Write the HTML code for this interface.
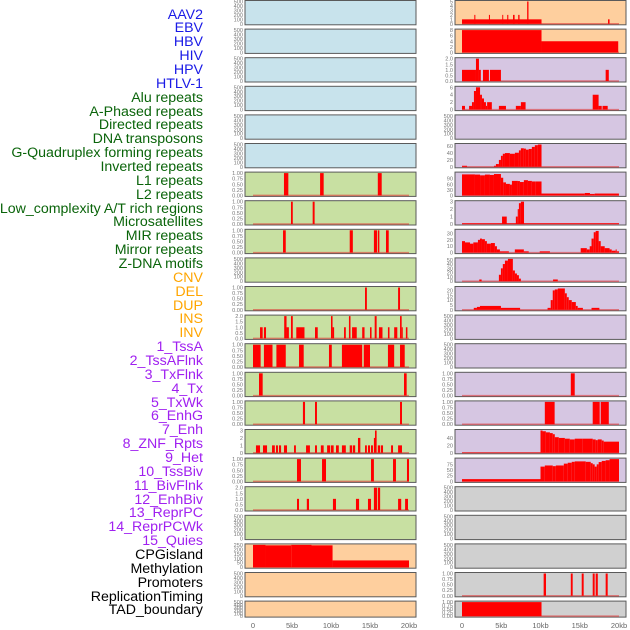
<!DOCTYPE html>
<html><head><meta charset="utf-8">
<style>
html,body{margin:0;padding:0;background:#fff;}
#wrap{position:relative;width:630px;height:630px;overflow:hidden;font-family:"Liberation Sans",sans-serif;}
.lab{position:absolute;right:427px;font-size:14.2px;line-height:14px;white-space:nowrap;}
svg{position:absolute;left:0;top:0;}
</style></head>
<body>
<div id="wrap">
<svg id="chart" width="630" height="630"></svg>
</div>
<script>
// ---- labels ----
const labels = ["AAV2","EBV","HBV","HIV","HPV","HTLV-1","Alu repeats","A-Phased repeats","Directed repeats","DNA transposons","G-Quadruplex forming repeats","Inverted repeats","L1 repeats","L2 repeats","Low_complexity A/T rich regions","Microsatellites","MIR repeats","Mirror repeats","Z-DNA motifs","CNV","DEL","DUP","INS","INV","1_TssA","2_TssAFlnk","3_TxFlnk","4_Tx","5_TxWk","6_EnhG","7_Enh","8_ZNF_Rpts","9_Het","10_TssBiv","11_BivFlnk","12_EnhBiv","13_ReprPC","14_ReprPCWk","15_Quies","CPGisland","Methylation","Promoters","ReplicationTiming","TAD_boundary"];
const labelColors = ["#1a1ae6","#1a1ae6","#1a1ae6","#1a1ae6","#1a1ae6","#1a1ae6","#0a640a","#0a640a","#0a640a","#0a640a","#0a640a","#0a640a","#0a640a","#0a640a","#0a640a","#0a640a","#0a640a","#0a640a","#0a640a","#ffa500","#ffa500","#ffa500","#ffa500","#ffa500","#a020f0","#a020f0","#a020f0","#a020f0","#a020f0","#a020f0","#a020f0","#a020f0","#a020f0","#a020f0","#a020f0","#a020f0","#a020f0","#a020f0","#a020f0","#000","#000","#000","#000","#000"];
const panelBg = {v:"#c8e3ec",r:"#c8e0a2",s:"#fecf9e",c:"#d6c6e2",o:"#d0d0d0"};
const panelKinds = ["v","v","v","v","v","v","r","r","r","r","r","r","r","r","r","r","r","r","r","s","s","s","s","s","c","c","c","c","c","c","c","c","c","c","c","c","c","c","c","o","o","o","o","o"];

// ---- tick sets ----
const T500=[0,100,200,300,400,500], T500L=["0","100","200","300","400","500"];
const T1=[0,0.25,0.5,0.75,1], T1L=["0.00","0.25","0.50","0.75","1.00"];
const T2=[0,0.5,1,1.5,2], T2L=["0.0","0.5","1.0","1.5","2.0"];
const T3=[0,1,2,3], T3L=["0","1","2","3"];

// ---- y maxima per panel ----
const yMax = [500,500,500,500,500,500, 1,1,1,500,1,2,1,1,1,3,1,2,500, 250,500,500,
              5,8,2,6,500,65,120,3,35,52,23, 500,500,1,1,60,98, 500,500,500,1,1];

// ---- segment data: [startKb, endKb, value] ----
const sAlu=[[3.97,4.53,1],[8.6,9.06,1],[16.0,16.5,1]];
const sAPh=[[4.87,5.1,1],[7.65,7.9,1]];
const sDir=[[3.85,4.2,1],[12.4,12.8,1],[15.5,15.9,1],[16.0,16.2,1],[17.05,17.4,1]];
const sGQ=[[14.36,14.6,1],[18.6,18.85,1]];
const sInv=[[0.9,1.24,1],[1.4,1.67,1],[4.0,4.3,2],[4.3,4.6,1],[4.87,5.1,2],[5.55,6.6,1],[7.95,8.3,1],[10.0,10.2,2],[10.2,10.4,1],[11.67,11.9,1],[12.3,12.5,2],[12.7,13.3,1],[14.0,14.3,1],[15.0,15.2,1],[15.6,15.85,2],[16.15,16.6,1],[17.3,17.5,1],[18.1,18.5,1],[18.85,19.06,2],[19.06,19.2,1],[19.6,19.8,1]];
const sL1=[[0,0.98,1],[1.4,2.5,1],[3.0,4.2,1],[5.9,6.5,1],[9.74,10.1,1],[11.4,14.0,1],[14.2,15.0,1],[17.3,18.1,1],[18.85,19.45,1]];
const sL2=[[0.77,1.24,1],[19.36,19.7,1]];
const sLow=[[6.4,6.67,1],[7.95,8.2,1],[18.85,19.1,1]];
const sMic=[[0.38,0.9,1],[1.28,1.8,1],[2.44,2.8,1],[2.95,3.2,1],[3.33,3.6,1],[3.97,4.36,1],[5.26,5.5,1],[6.8,7.3,1],[7.95,8.2,1],[8.7,9.06,1],[9.5,9.9,1],[10.0,10.34,1],[10.64,11.0,1],[11.4,11.9,1],[12.4,12.7,1],[12.8,13.1,1],[13.46,13.76,2],[14.36,14.6,1],[14.74,15.0,1],[15.13,15.38,1],[15.5,15.64,2],[15.64,15.85,3],[16.0,16.3,1],[16.4,16.67,1],[17.7,17.95,1],[18.6,19.1,1]];
const sMIR=[[5.64,6.15,1],[8.85,9.36,1],[15.13,15.5,1],[17.95,18.33,1],[19.74,20.0,1]];
const sMirror=[[5.64,5.9,1],[6.9,7.18,1],[10.25,10.64,1],[13.2,13.6,1],[14.74,15.13,1],[15.5,15.9,2],[16.0,16.3,2],[18.6,19.0,1],[19.5,19.87,1]];
const sCNV=[[0,1.6,250],[1.6,4.9,245],[4.9,7.5,250],[7.5,10.2,245],[10.2,20,76]];
const sINS=[[0,10.13,1],[1.57,1.7,2],[3.43,3.56,2],[5.13,5.25,2],[5.76,5.9,2],[6.5,6.7,2],[7.16,7.33,2],[8.3,8.47,5],[18.6,18.8,1]];
const sINV=[[0,10.13,8],[10.13,19.9,4]];
const sTssA=[[0,1.78,1],[1.78,2.16,2],[2.16,2.4,1],[2.67,3.43,1],[3.56,4.96,1],[18.3,18.7,1]];
const sTssAF=[[0,0.38,1],[0.9,1.27,1],[1.27,1.52,2],[1.52,1.78,5],[1.78,2.3,6],[2.3,2.54,4],[2.54,2.8,3],[2.8,3.05,2],[3.05,3.2,1],[3.2,3.8,2],[4.7,5.6,1],[6.86,7.5,1],[7.5,8.1,2],[16.65,17.4,4],[17.4,17.8,1],[17.9,18.56,1]];
const sTx=[[0,0.64,3],[4.07,4.32,3],[4.32,4.7,8],[4.7,4.96,20],[4.96,5.2,32],[5.2,5.47,38],[5.47,6.1,40],[6.1,6.74,38],[6.74,7.25,41],[7.25,7.5,48],[7.5,7.88,54],[7.88,8.14,53],[8.14,8.5,50],[8.5,8.9,52],[8.9,9.28,58],[9.28,9.66,63],[9.66,10.13,65]];
const sTxWk=[[0,1.65,113],[1.65,2.3,112],[2.3,2.92,108],[2.92,3.56,112],[3.56,4.07,110],[4.07,4.96,115],[4.96,5.25,95],[5.25,5.6,70],[5.6,6.1,62],[6.1,6.36,58],[6.36,7.12,78],[7.12,7.38,77],[7.38,7.88,72],[7.88,8.4,82],[8.4,8.9,78],[8.9,9.4,75],[9.4,10.13,75],[10.13,15.64,10],[15.64,16.3,13],[16.3,16.9,8],[16.9,19.99,10]];
const sEnhG=[[0,20,0.1],[5.1,5.7,1],[6.86,7.1,1],[7.1,7.25,2],[7.25,7.5,2.8],[7.5,7.9,3]];
const sEnh=[[0,0.38,18],[0.38,1.02,16],[1.02,1.44,14],[1.44,2.03,16],[2.03,2.29,20],[2.29,2.54,22],[2.54,2.92,21],[2.92,3.17,18],[3.17,3.68,14],[3.68,4.19,15],[4.19,4.45,10],[4.45,4.83,5],[4.83,5.97,2],[6.73,7.88,5],[7.88,8.5,2],[9.9,11.2,2],[15.12,15.9,7],[15.9,16.27,5],[16.27,16.5,10],[16.5,16.78,22],[16.78,17.03,32],[17.03,17.41,34],[17.41,17.67,18],[17.67,18.18,10],[18.18,18.8,7],[18.8,19.07,5],[19.07,19.58,3],[19.58,19.7,5],[19.7,20,2]];
const sZNF=[[2.2,2.5,4],[4.7,4.96,15],[4.96,5.2,30],[5.2,5.47,40],[5.47,5.85,48],[5.85,6.48,52],[6.48,6.74,25],[6.74,7.0,18],[7.0,7.25,14],[7.25,7.5,6],[11.6,12.2,4]];
const sHet=[[1.5,1.9,2],[1.9,2.29,3],[2.29,4.96,4],[4.96,7.4,2],[10.9,11.3,2],[11.3,11.56,10],[11.56,11.82,20],[11.82,12.2,21],[12.2,13.1,22],[13.1,13.35,17],[13.35,13.6,13],[13.6,13.98,10],[13.98,14.5,8],[14.5,14.74,4],[14.74,15.4,2],[16.5,17.5,2]];
const sEnhBiv=[[13.86,14.36,1]];
const sReprPC=[[10.55,11.8,1],[16.65,17.54,1],[17.67,18.7,1]];
const sReprPCWk=[[0,10.0,1],[10.0,10.26,60],[10.26,10.68,58],[10.68,11.2,55],[11.2,11.56,53],[11.56,11.82,50],[11.82,12.33,42],[12.33,13.1,40],[13.1,13.73,38],[13.73,14.36,36],[14.36,15.38,38],[15.38,16.65,38],[16.65,17.03,36],[17.03,17.29,34],[17.29,17.8,36],[17.8,18.05,33],[18.05,20,30]];
const sQuies=[[0,10.0,10],[10.0,10.55,65],[10.55,11.56,70],[11.56,11.95,67],[11.95,12.97,70],[12.97,13.47,78],[13.47,13.98,82],[13.98,14.36,86],[14.36,15.76,88],[15.76,16.4,86],[16.4,16.65,80],[16.65,16.9,75],[16.9,17.16,65],[17.16,17.41,75],[17.41,17.8,85],[17.8,18.3,90],[18.3,18.8,93],[18.8,20,98]];
const sRep=[[10.4,10.7,1],[13.86,14.1,1],[15.25,15.5,1],[16.65,16.9,1],[17.03,17.3,1],[18.3,18.56,1]];
const sTAD=[[0,10.13,1]];

const segs = [null,null,null,null,null,null, sAlu,sAPh,sDir,null,sGQ,sInv,sL1,sL2,sLow,sMic,sMIR,sMirror,null, sCNV,null,null,
              sINS,sINV,sTssA,sTssAF,null,sTx,sTxWk,sEnhG,sEnh,sZNF,sHet,null,null,sEnhBiv,sReprPC,sReprPCWk,sQuies,null,null,null,sRep,sTAD];

function ticksFor(m){
  if(m===500) return [T500,T500L];
  if(m===1) return [T1,T1L];
  if(m===2) return [T2,T2L];
  if(m===3) return [T3,T3L];
  if(m===250) return [[0,50,100,150,200,250],["0","50","100","150","200","250"]];
  if(m===5) return [[0,1,2,3,4,5],["0","1","2","3","4","5"]];
  if(m===8) return [[0,2,4,6,8],["0","2","4","6","8"]];
  if(m===6) return [[0,2,4,6],["0","2","4","6"]];
  if(m===65) return [[0,20,40,60],["0","20","40","60"]];
  if(m===120) return [[0,30,60,90],["0","30","60","90"]];
  if(m===35) return [[0,10,20,30],["0","10","20","30"]];
  if(m===52) return [[0,10,20,30,40,50],["0","10","20","30","40","50"]];
  if(m===23) return [[0,5,10,15,20],["0","5","10","15","20"]];
  if(m===60) return [[0,20,40],["0","20","40"]];
  if(m===98) return [[0,25,50,75],["0","25","50","75"]];
  return [[0],["0"]];
}
const xTicks=[0,5,10,15,20], xTickLabels=["0","5kb","10kb","15kb","20kb"];

const NS="http://www.w3.org/2000/svg";
const svg=document.getElementById("chart");
function mk(tag,attrs,parent){const e=document.createElementNS(NS,tag);for(const k in attrs)e.setAttribute(k,attrs[k]);(parent||svg).appendChild(e);return e;}

const wrap=document.getElementById("wrap");
labels.forEach((t,i)=>{
  const d=document.createElement("div");
  d.className="lab";
  d.style.top=(15+i*13.86-7.5)+"px";
  d.style.color=labelColors[i];
  d.textContent=t;
  
  
  wrap.appendChild(d);
});

const cols=[{pl:245,pr:416,x0:253,x1:409},{pl:455,pr:626,x0:462,x1:619}];
for(let i=0;i<44;i++){
  const c=cols[i<22?0:1], r=i%22;
  const top=0.5+r*28.6, h=(r===21)?16:24.3, bot=top+h;
  const xs=kb=>c.x0+(kb/20)*(c.x1-c.x0);
  const ys=v=>(bot-1)-(v/yMax[i])*(h-2);
  const g=mk("g",{});
  
  
  const bg=mk("rect",{x:c.pl,y:top,width:c.pr-c.pl,height:h,fill:panelBg[panelKinds[i]],stroke:"#5a5a5a","stroke-width":1},g);
  
  
  if(segs[i]){
    const base=mk("line",{x1:xs(0),x2:xs(20),y1:bot-1,y2:bot-1,stroke:"#e03030","stroke-width":1.5,opacity:0.55},g);
    
    
    segs[i].forEach(s=>{
      const b=mk("rect",{x:xs(s[0]),y:ys(s[2]),width:Math.max(0.8,xs(s[1])-xs(s[0])),height:(bot-1)-ys(s[2]),fill:"#ff0000"},g);
      
      
    });
  }
  const [tv,tl]=ticksFor(yMax[i]);
  tv.forEach((v,k)=>{
    const t=mk("text",{x:c.pl-2,y:ys(v)+2,"text-anchor":"end","font-size":"5.6px",fill:"#777","font-family":"Liberation Sans, sans-serif"},g);
    t.textContent=tl[k];
    
    
  });
}
cols.forEach(c=>{
  xTicks.forEach((v,k)=>{
    const t=mk("text",{x:c.x0+(v/20)*(c.x1-c.x0),y:628,"text-anchor":"middle","font-size":"7.5px",fill:"#666","font-family":"Liberation Sans, sans-serif"});
    t.textContent=xTickLabels[k];
    
    
  });
});
</script>
</body></html>
